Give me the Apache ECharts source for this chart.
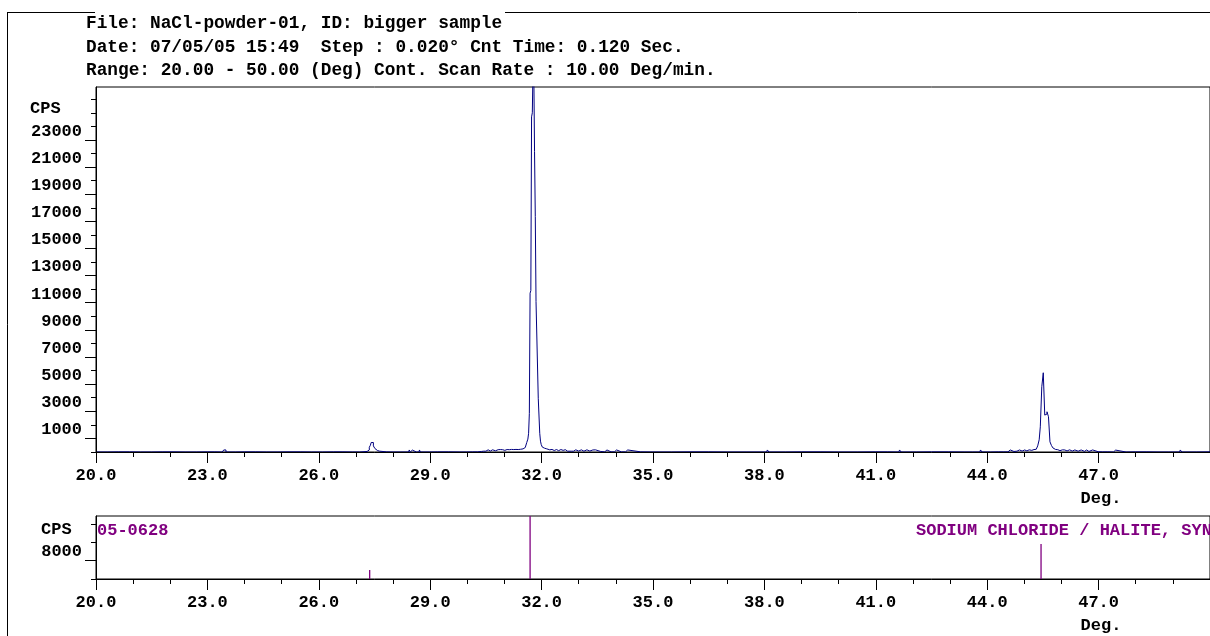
<!DOCTYPE html>
<html>
<head>
<meta charset="utf-8">
<script src="https://cdn.jsdelivr.net/npm/echarts@6/dist/echarts.min.js"></script>
<style>
  html, body { margin: 0; padding: 0; background: #fff; }
  #chart { width: 1210px; height: 636px; }
</style>
</head>
<body>
<div id="chart"></div>
<script>
// ---- scan header ----
const headerLines = [
  'File: NaCl-powder-01, ID: bigger sample',
  'Date: 07/05/05 15:49  Step : 0.020\u00b0 Cnt Time: 0.120 Sec.',
  'Range: 20.00 - 50.00 (Deg) Cont. Scan Rate : 10.00 Deg/min.'
];

// ---- measured pattern: 2-theta (deg) and intensity (CPS) ----
const twoTheta = [
  20.00, 20.60, 21.20, 21.80, 22.40, 23.00, 23.40, 23.48, 23.52, 24.00,
  24.60, 25.20, 25.80, 26.40, 26.90, 27.30, 27.34, 27.38, 27.40, 27.42,
  27.44, 27.46, 27.48, 27.50, 27.52, 27.54, 27.58, 27.62, 27.66, 28.00,
  28.42, 28.45, 28.48, 28.52, 28.56, 28.70, 28.72, 28.75, 29.20, 29.80,
  30.14, 30.16, 30.18, 30.38, 30.40, 30.44, 30.50, 30.54, 30.58, 30.66,
  30.70, 30.76, 30.80, 30.86, 30.92, 30.98, 31.04, 31.10, 31.16, 31.22,
  31.28, 31.34, 31.40, 31.46, 31.50, 31.54, 31.58, 31.62, 31.64, 31.66,
  31.68, 31.70, 31.72, 31.74, 31.76, 31.78, 31.80, 31.82, 31.84, 31.86,
  31.88, 31.90, 31.92, 31.94, 31.96, 31.98, 32.00, 32.04, 32.08, 32.12,
  32.16, 32.22, 32.28, 32.34, 32.40, 32.46, 32.52, 32.58, 32.64, 32.70,
  32.80, 32.92, 32.96, 33.04, 33.10, 33.18, 33.26, 33.34, 33.42, 33.48,
  33.70, 33.74, 33.78, 33.96, 34.00, 34.04, 34.26, 34.30, 34.34, 35.00,
  36.00, 37.00, 38.06, 38.10, 38.14, 39.00, 40.00, 41.00, 41.62, 41.66,
  41.70, 42.50, 43.40, 43.80, 43.84, 43.88, 44.30, 44.56, 44.60, 44.64,
  44.80, 44.84, 44.90, 44.98, 45.04, 45.10, 45.16, 45.20, 45.26, 45.30,
  45.34, 45.38, 45.42, 45.44, 45.46, 45.48, 45.50, 45.52, 45.54, 45.56,
  45.58, 45.60, 45.62, 45.64, 45.66, 45.68, 45.70, 45.72, 45.74, 45.76,
  45.78, 45.82, 45.86, 45.90, 45.96, 46.00, 46.06, 46.12, 46.18, 46.26,
  46.32, 46.40, 46.50, 46.56, 46.68, 46.74, 46.84, 46.88, 47.10, 47.40,
  47.44, 47.48, 48.00, 48.60, 49.18, 49.22, 49.26, 50.00
];
const counts = [
  0, 10, 0, 10, 0, 10, 0, 150, 0, 10,
  0, 10, 0, 10, 0, 40, 150, 350, 500, 700,
  830, 700, 450, 320, 260, 160, 110, 60, 10, 0,
  0, 150, 0, 140, 0, 0, 150, 0, 10, 0,
  10, 150, 10, 40, 150, 60, 60, 160, 70, 160,
  170, 90, 170, 180, 170, 120, 180, 170, 190, 180,
  190, 180, 200, 200, 230, 330, 460, 700, 950, 1380,
  2850, 11700, 11900, 24700, 25000, 28500, 28000, 22150, 17350, 11085,
  11050, 11000, 3960, 3900, 1380, 800, 550, 360, 280, 230,
  200, 160, 190, 110, 180, 100, 180, 120, 170, 60,
  60, 160, 70, 160, 60, 160, 70, 150, 160, 40,
  10, 150, 10, 10, 150, 10, 10, 150, 10, 0,
  10, 0, 0, 150, 0, 10, 0, 10, 0, 150,
  0, 10, 0, 0, 150, 0, 10, 10, 150, 40,
  60, 150, 70, 150, 80, 160, 170, 120, 180, 200,
  260, 450, 900, 1855, 1900, 4810, 4850, 5840, 5800, 2720,
  2650, 2800, 2965, 2950, 2600, 2475, 750, 650, 480, 380,
  300, 190, 160, 170, 100, 160, 150, 80, 160, 70,
  150, 60, 150, 50, 150, 40, 150, 20, 10, 0,
  140, 0, 10, 0, 0, 150, 0, 10
];

// ---- reference card 05-0628 (sodium chloride / halite): line positions and heights (CPS) ----
const refTwoTheta = [27.37, 31.69, 45.45];
const refCounts = [3900, 27500, 15300];
const refCard = '05-0628';
const refName = 'SODIUM CHLORIDE / HALITE, SYN';

// ---- axis ticks ----
const xMajorTicks = [20, 23, 26, 29, 32, 35, 38, 41, 44, 47, 50];
const xMinorTicks = [21, 22, 24, 25, 27, 28, 30, 31, 33, 34, 36, 37, 39, 40, 42, 43, 45, 46, 48, 49];
const xTickLabels = [20, 23, 26, 29, 32, 35, 38, 41, 44, 47];
const yLabelTicks = [1000, 3000, 5000, 7000, 9000, 11000, 13000, 15000, 17000, 19000, 21000, 23000];
const yShortTicks = [0, 2000, 4000, 6000, 8000, 10000, 12000, 14000, 16000, 18000, 20000, 22000, 24000, 25000, 26000];
const refLabelTicks = [8000];
const refShortTicks = [0, 16000, 24000];

const FONT = "'Liberation Mono', 'Courier New', monospace";
const labelFont = { fontFamily: FONT, fontWeight: 'bold', fontSize: 17, color: '#000' };

const chart = echarts.init(document.getElementById('chart'), null, { renderer: 'canvas' });

function xAxesFor(grid) {
  return [
    {
      type: 'value', gridIndex: grid, position: 'bottom', min: 20, max: 50, z: 5,
      axisLine: { show: true, onZero: false, lineStyle: { color: '#000', width: 1 } },
      axisTick: { show: true, customValues: xMajorTicks, length: 11, lineStyle: { color: '#000', width: 1 } },
      axisLabel: { show: true, customValues: xTickLabels, margin: 15, formatter: v => v.toFixed(1), ...labelFont },
      splitLine: { show: false }
    },
    {
      type: 'value', gridIndex: grid, position: 'bottom', min: 20, max: 50, z: 5,
      axisLine: { show: false, onZero: false },
      axisTick: { show: true, customValues: xMinorTicks, length: 5, lineStyle: { color: '#000', width: 1 } },
      axisLabel: { show: false },
      splitLine: { show: false }
    }
  ];
}

function yAxesFor(grid, max, labelTicks, shortTicks) {
  return [
    {
      type: 'value', gridIndex: grid, position: 'left', min: 0, max: max, z: 5,
      axisLine: { show: true, onZero: false, lineStyle: { color: '#000', width: 1 } },
      axisTick: { show: true, customValues: labelTicks, length: 11, lineStyle: { color: '#000', width: 1 } },
      axisLabel: { show: true, customValues: labelTicks, margin: 14, verticalAlign: 'bottom', formatter: v => String(v), ...labelFont },
      splitLine: { show: false }
    },
    {
      type: 'value', gridIndex: grid, position: 'left', min: 0, max: max, z: 5,
      axisLine: { show: false, onZero: false },
      axisTick: { show: true, customValues: shortTicks, length: 5, lineStyle: { color: '#000', width: 1 } },
      axisLabel: { show: false },
      splitLine: { show: false }
    }
  ];
}

function textEl(x, y, text, opts) {
  return {
    type: 'text', x: x, y: y, silent: true, z: 10,
    style: Object.assign({
      text: text,
      font: "bold 17px 'Liberation Mono', 'Courier New', monospace",
      fill: '#000',
      textAlign: 'left',
      textVerticalAlign: 'middle'
    }, opts || {})
  };
}

function lineEl(x1, y1, x2, y2) {
  return {
    type: 'line', silent: true, z: 10,
    shape: { x1: x1, y1: y1, x2: x2, y2: y2 },
    style: { stroke: '#000', lineWidth: 1 }
  };
}

const headerFont = "bold 17.8px 'Liberation Mono', 'Courier New', monospace";

const option = {
  backgroundColor: '#fff',
  animation: false,
  grid: [
    { left: 96, top: 87, width: 1118, height: 365, show: true, borderColor: '#000', borderWidth: 1, backgroundColor: 'transparent' },
    { left: 96, top: 516, width: 1118, height: 63, show: true, borderColor: '#000', borderWidth: 1, backgroundColor: 'transparent' }
  ],
  xAxis: [...xAxesFor(0), ...xAxesFor(1)],
  yAxis: [
    ...yAxesFor(0, 26900, yLabelTicks, yShortTicks),
    ...yAxesFor(1, 27500, refLabelTicks, refShortTicks)
  ],
  series: [
    {
      name: 'NaCl-powder-01',
      type: 'line',
      step: 'middle',
      xAxisIndex: 0, yAxisIndex: 0,
      data: twoTheta.map((t, i) => [t, counts[i]]),
      showSymbol: false,
      symbol: 'none',
      clip: true,
      z: 2,
      lineStyle: { color: '#000080', width: 1 }
    },
    {
      name: refCard,
      type: 'bar',
      xAxisIndex: 2, yAxisIndex: 2,
      data: refTwoTheta.map((t, i) => [t, refCounts[i]]),
      barWidth: 1.3,
      z: 2,
      itemStyle: { color: '#800080' }
    }
  ],
  graphic: {
    elements: [
      // outer frame
      lineEl(7.5, 12.5, 7.5, 636),
      lineEl(7, 12.5, 95, 12.5),
      lineEl(505, 12.5, 1210, 12.5),
      // header
      textEl(86, 23.5, headerLines[0], { font: headerFont }),
      textEl(86, 47.7, headerLines[1], { font: headerFont }),
      textEl(86, 70.5, headerLines[2], { font: headerFont }),
      // axis names
      textEl(30, 109, 'CPS'),
      textEl(41, 530, 'CPS'),
      textEl(1101, 499, 'Deg.', { textAlign: 'center' }),
      textEl(1101, 626, 'Deg.', { textAlign: 'center' }),
      // reference card annotations
      textEl(97, 531, refCard, { fill: '#800080' }),
      textEl(916, 531, refName, { fill: '#800080' })
    ]
  }
};

chart.setOption(option);
</script>
</body>
</html>
